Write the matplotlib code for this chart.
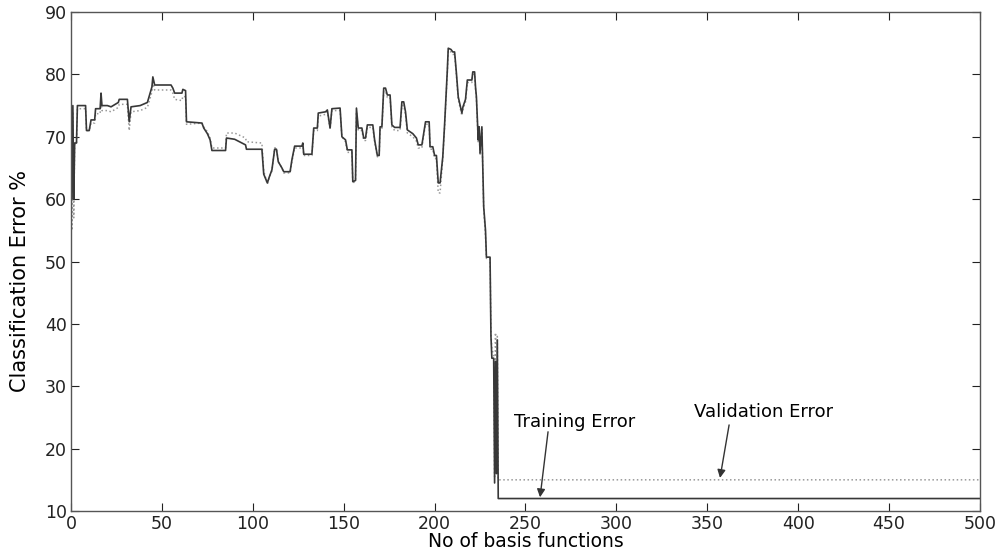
import matplotlib
matplotlib.use("Agg")
import matplotlib.pyplot as plt

# Number of basis functions (x) and classification errors (%)
train_x = [0, 0.5, 1, 1.5, 2, 3, 3.5, 8, 8.5, 10, 11, 13, 13.5, 16, 16.5, 17, 20, 22, 26, 26.5,
           31, 32, 33, 38, 42, 43, 44.5, 45, 46, 55, 56, 57, 61, 61.5, 63, 63.5, 72, 73, 75, 76.5,
           77.5, 85, 85.5, 90, 96, 96.5, 105, 106, 108, 109, 110.5, 112, 113, 114, 116, 117, 120.5, 121.5, 123, 127,
           127.5, 128, 132.5, 133.5, 135.5, 136, 140, 141, 142.5, 143.5, 148, 149, 151, 152, 154.5, 155, 156.5, 157, 158, 160,
           161, 162, 163, 166, 167, 168.5, 169.5, 170, 171, 172, 173, 174, 175.5, 176.5, 178, 181, 182, 183, 184, 185,
           188, 190, 191, 193, 194, 195, 197, 197.5, 199, 200, 201, 202, 203, 204.5, 205.5, 207, 207.5, 209, 210, 211,
           212, 213, 215, 215.6, 217, 218, 220.5, 221, 222, 222.5, 223, 224, 224.5, 225, 226, 226.6, 227, 228, 228.5, 230.5,
           231, 231.5, 232.5, 233, 233.5, 234, 234.5, 235, 236, 500]
train_y = [75.5, 60, 75, 60, 69, 69, 75, 75, 71, 71, 72.7, 72.7, 74.5, 74.5, 77, 75, 75, 74.8, 75.5, 76,
           76, 72.4, 74.8, 75, 75.5, 76.5, 78, 79.6, 78.3, 78.3, 77.8, 77, 77, 77.6, 77.4, 72.4, 72.2, 71.4, 70.5, 69.5,
           67.8, 67.8, 69.8, 69.6, 68.7, 68, 68, 64, 62.6, 63.5, 64.7, 68, 68, 66, 65, 64.4, 64.4, 66.3, 68.5, 68.5,
           69, 67.2, 67.2, 71.4, 71.4, 73.8, 74, 74.3, 71.4, 74.5, 74.6, 70, 69.5, 67.9, 67.9, 62.8, 63, 74.6, 71.4, 71.4,
           69.8, 69.8, 71.9, 71.9, 69.5, 67, 67, 71.6, 71.6, 77.8, 77.8, 76.7, 76.7, 71.9, 71.5, 71.5, 75.6, 75.6, 74, 71.1,
           70.5, 69.8, 68.7, 68.7, 70.6, 72.4, 72.4, 68.4, 68.4, 67, 67, 62.6, 62.6, 66.8, 72, 80.7, 84.2, 84, 83.6, 83.6,
           80.2, 76.4, 73.8, 74.8, 76, 79.1, 79.1, 80.4, 80.4, 78, 76.4, 69.5, 71.6, 67.4, 71.6, 64.2, 58.8, 55, 50.7, 50.7,
           38, 34.5, 34.5, 14.5, 34, 16, 37.4, 12, 12, 12]
valid_y = [75.5, 55, 74, 57, 69, 69, 74.5, 74.5, 71, 71, 72.2, 72.2, 73.7, 73.7, 76, 74.2, 74.2, 74, 74.7, 75.2,
           75.2, 71, 74, 74.2, 74.7, 75.7, 77.2, 78.8, 77.5, 77.5, 77, 76, 75.8, 76.5, 76.4, 72, 72.2, 71.6, 70.8, 69.8,
           68.2, 68.2, 70.6, 70.6, 69.8, 69.2, 69, 64.5, 62.4, 63.5, 64.5, 68.2, 68.2, 66, 65, 64.2, 64.2, 66, 68.2, 68.2,
           69, 67, 67, 71, 71, 73.3, 73.6, 74, 71.2, 74.2, 74.2, 70, 69.2, 67.5, 67.5, 62.5, 63, 74, 71, 71,
           69.4, 69.4, 71.5, 71.5, 69.2, 66.8, 66.8, 71.2, 71.2, 77.3, 77.3, 76.3, 76.3, 71.6, 71, 71, 75, 75, 73.5, 70.6,
           70, 69.3, 68.2, 68.2, 70.2, 72, 72, 68, 68, 66.5, 66.5, 61, 61, 66.5, 71.6, 80.3, 83.8, 83.6, 83.2, 83.2,
           79.8, 76, 73.4, 74.4, 75.6, 78.7, 78.7, 80, 80, 77.6, 76, 69, 71, 67, 71.2, 63.8, 58.5, 54, 50.5, 50.5,
           38.6, 36, 35, 15.5, 38.6, 17, 38, 15, 15, 15]

x_ticks = [0, 50, 100, 150, 200, 250, 300, 350, 400, 450, 500]
y_ticks = [10, 20, 30, 40, 50, 60, 70, 80, 90]

plt.rcParams['font.family'] = ['DejaVu Sans']

fig = plt.figure(figsize=(10.02, 5.54), dpi=100)
ax = fig.add_axes([0.0709, 0.0776, 0.9071, 0.9007])

ax.plot(train_x, valid_y, color='#999999', linestyle=':', linewidth=1.1)
ax.plot(train_x, train_y, color='#383838', linestyle='-', linewidth=1.2)

ax.set_xlim(0, 500)
ax.set_ylim(10, 90)
ax.set_xticks(x_ticks)
ax.set_yticks(y_ticks)
ax.tick_params(direction='in', length=6, width=0.8, top=True, right=True,
               labelsize=12.5, colors='#222222', pad=3)
for s in ax.spines.values():
    s.set_color('#555555')
    s.set_linewidth(1.0)

ax.set_xlabel('No of basis functions', fontsize=13.5, labelpad=-1)
ax.set_ylabel('Classification Error %', fontsize=15)
ax.yaxis.set_label_coords(-0.045, 0.461)

# Annotations: text and arrows
ax.text(243.5, 24.3, 'Training Error', fontsize=13, ha='left', va='center')
ax.annotate('', xy=(258, 12.2), xytext=(262.4, 22.7),
            arrowprops=dict(arrowstyle='-|>', color='#333333', lw=1.0, mutation_scale=12,
                            shrinkA=0, shrinkB=0))
ax.text(342.5, 25.9, 'Validation Error', fontsize=13, ha='left', va='center')
ax.annotate('', xy=(357, 15.3), xytext=(362, 23.8),
            arrowprops=dict(arrowstyle='-|>', color='#333333', lw=1.0, mutation_scale=12,
                            shrinkA=0, shrinkB=0))

fig.savefig('out.png', dpi=100)
